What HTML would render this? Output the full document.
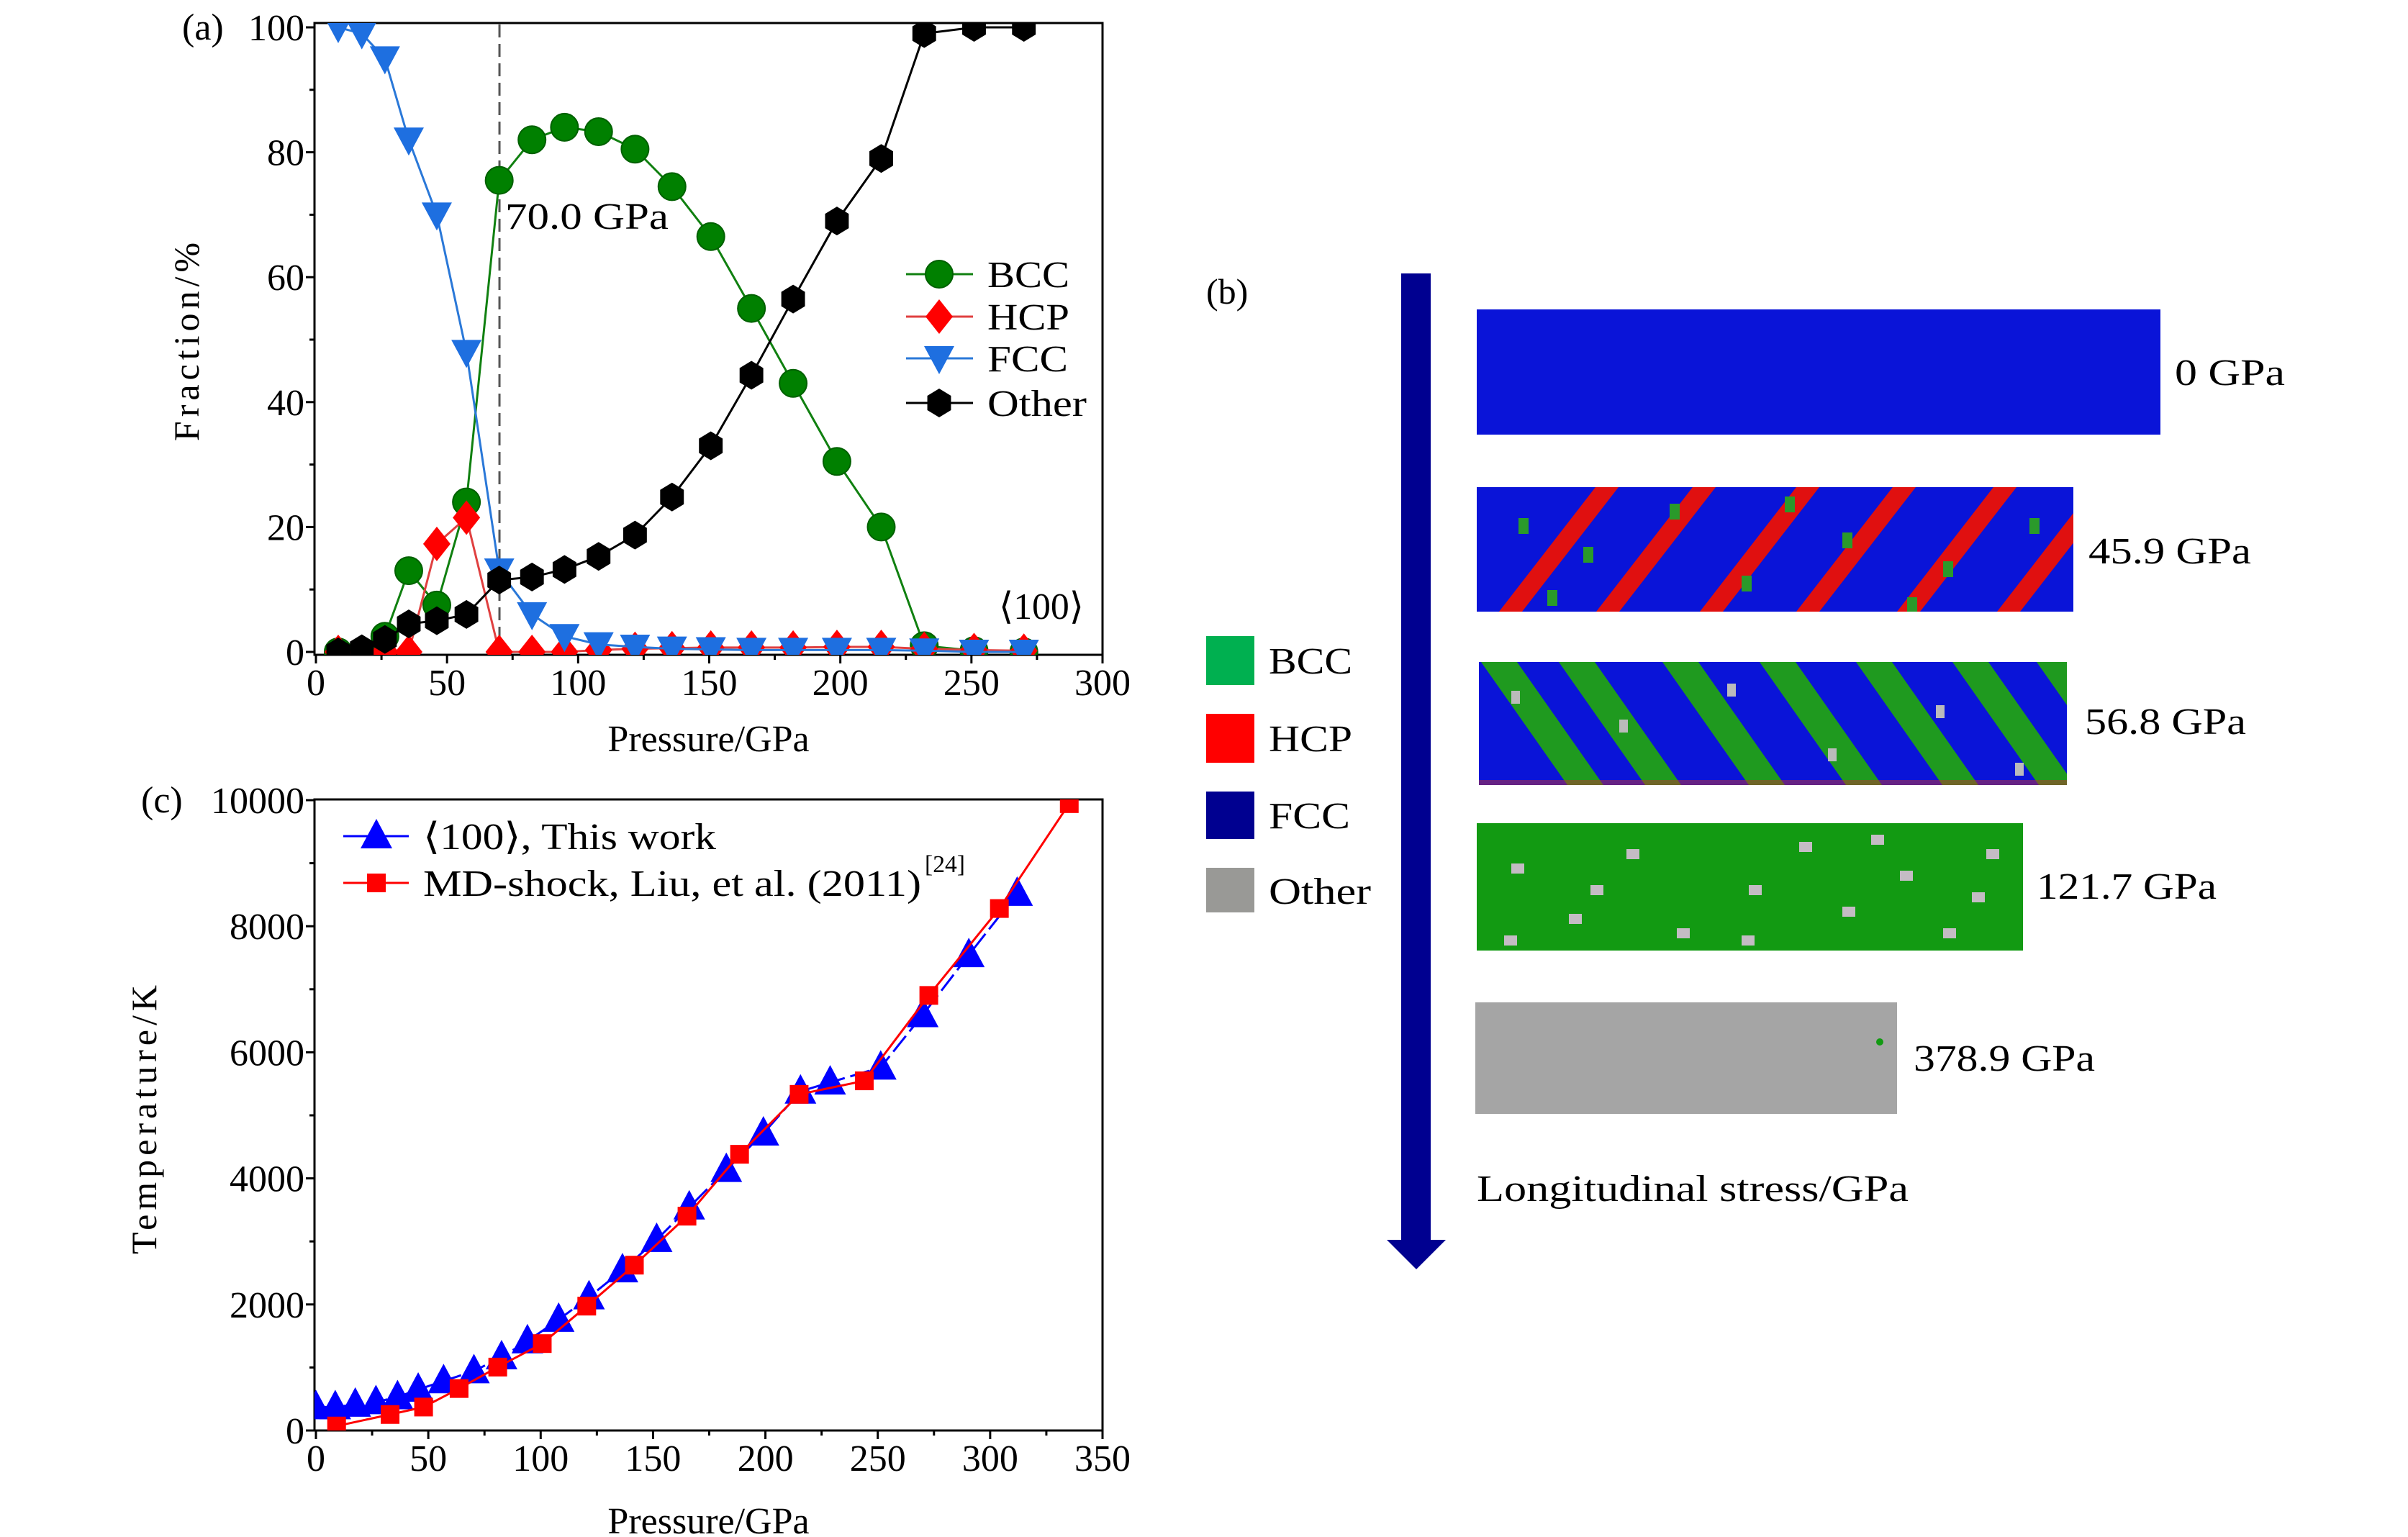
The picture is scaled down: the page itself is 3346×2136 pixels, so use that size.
<!DOCTYPE html>
<html><head><meta charset="utf-8">
<style>
html,body{margin:0;padding:0;background:#fff;}
svg{display:block;font-family:"Liberation Serif",serif;}
</style></head>
<body>
<svg id="fig" width="3346" height="2136" viewBox="0 0 3346 2136" xmlns="http://www.w3.org/2000/svg">
<defs>
<clipPath id="clipA"><rect x="437" y="32" width="1095" height="878"/></clipPath>
<clipPath id="clipC"><rect x="437" y="1111" width="1095" height="877"/></clipPath>
<clipPath id="s2c"><rect x="2052" y="677" width="829" height="173"/></clipPath>
<clipPath id="s3c"><rect x="2055" y="920" width="817" height="171"/></clipPath>
</defs>
<g id="panelA"></g>
<g id="panelC"></g>
<g id="panelB">
  <text x="1676" y="422" font-size="50">(b)</text>
  <rect x="1947" y="380" width="41" height="1345" fill="#000090"/>
  <polygon points="1927,1723 2009,1723 1968,1764" fill="#000090"/>
  <g>
    <rect x="1676" y="884" width="67" height="68" fill="#00b050"/>
    <text x="1763" y="936" font-size="52" textLength="116" lengthAdjust="spacingAndGlyphs">BCC</text>
    <rect x="1676" y="992" width="67" height="68" fill="#ff0000"/>
    <text x="1763" y="1044" font-size="52" textLength="116" lengthAdjust="spacingAndGlyphs">HCP</text>
    <rect x="1676" y="1100" width="67" height="66" fill="#000090"/>
    <text x="1763" y="1151" font-size="52" textLength="113" lengthAdjust="spacingAndGlyphs">FCC</text>
    <rect x="1676" y="1206" width="67" height="62" fill="#999996"/>
    <text x="1763" y="1256" font-size="52" textLength="142" lengthAdjust="spacingAndGlyphs">Other</text>
  </g>
  <rect x="2052" y="430" width="950" height="174" fill="#0a14d8"/>
  <text x="3022" y="535" font-size="52" textLength="153" lengthAdjust="spacingAndGlyphs">0 GPa</text>
  <g>
    <rect x="2052" y="677" width="829" height="173" fill="#0a14d8"/>
    <g id="s2" clip-path="url(#s2c)"></g>
  </g>
  <text x="2902" y="783" font-size="52" textLength="226" lengthAdjust="spacingAndGlyphs">45.9 GPa</text>
  <g>
    <rect x="2055" y="920" width="817" height="171" fill="#0a14d8"/>
    <g id="s3" clip-path="url(#s3c)"></g>
  </g>
  <text x="2897" y="1020" font-size="52" textLength="224" lengthAdjust="spacingAndGlyphs">56.8 GPa</text>
  <g>
    <rect x="2052" y="1144" width="759" height="177" fill="#129a12"/>
    <g id="s4"></g>
  </g>
  <text x="2830" y="1249" font-size="52" textLength="250" lengthAdjust="spacingAndGlyphs">121.7 GPa</text>
  <rect x="2050" y="1393" width="586" height="155" fill="#a5a5a5"/>
  <circle cx="2612" cy="1448" r="5" fill="#129a12"/>
  <text x="2659" y="1488" font-size="52" textLength="252" lengthAdjust="spacingAndGlyphs">378.9 GPa</text>
  <text x="2052" y="1669" font-size="52" textLength="600" lengthAdjust="spacingAndGlyphs">Longitudinal stress/GPa</text>
</g>
</svg>
<script>
// ---- Panel (a) data ----
const pressureA = [8.5,17.5,26.3,35.4,46.1,57.4,69.9,82.4,94.8,107.8,121.7,135.8,150.6,166.1,182,198.7,215.6,232,251,270];
const bccFrac   = [0,0,2.5,13,7.5,24,75.5,82,84,83.3,80.5,74.5,66.5,55,43,30.5,20,1,0.2,0];
const hcpFrac   = [0,0,0,0,17.3,21.5,0,0,0,0.3,0.5,0.6,0.7,0.7,0.7,0.8,0.8,0.5,0.3,0.2];
const fccFrac   = [100,99,95,82,70,48,13,6,2.5,1.2,0.8,0.5,0.4,0.3,0.3,0.3,0.3,0.2,0,0];
const otherFrac = [0,0.5,2,4.5,5,6,11.5,12,13.2,15.3,18.7,24.8,33,44.3,56.5,69,79,99,100,100];
const xTicksA = [0,50,100,150,200,250,300];
const yTicksA = [0,20,40,60,80,100];
// ---- Panel (c) data ----
const pressureThis = [0,8.6,17.5,26.7,36.3,45.5,56.8,70.3,82.6,94.1,108,121.5,136.4,151.6,166.1,182.6,199.1,215.6,228.8,251.3,270,290.5,312];
const tempThis = [372,372,412,452,531,650,785,943,1165,1418,1759,2116,2544,3027,3542,4136,4714,5380,5523,5761,6593,7544,8518];
const pressureLiu = [9.2,33,47.9,63.7,80.9,100.7,120.5,141.7,165.1,188.5,215,244,272.7,304.1,335.2];
const tempLiu = [71,254,372,666,1006,1379,1973,2623,3400,4382,5333,5547,6902,8281,9945];
const xTicksC = [0,50,100,150,200,250,300,350];
const yTicksC = [0,2000,4000,6000,8000,10000];

const NS='http://www.w3.org/2000/svg';
function mk(parent,tag,attrs,txt){const e=document.createElementNS(NS,tag);for(const k in attrs)e.setAttribute(k,attrs[k]);if(txt!==undefined)e.textContent=txt;parent.appendChild(e);return e;}

const xA=v=>439+(v-0)/300*(1532-439);
const yA=v=>906-(v-0)/100*(906-38);
const xC=v=>439+v/350*(1532-439);
const yC=v=>1988-v/10000*(1988-1112);

function axes(g,fx,fy,xt,yt,frame,xminor,yminor,xlab,ylab,ylabX,ylabY,xlabOff){
  const f=mk(g,'rect',{x:frame[0],y:frame[1],width:frame[2]-frame[0],height:frame[3]-frame[1],fill:'none',stroke:'#000','stroke-width':3});
  
  
  xt.forEach(v=>{const x=fx(v);mk(g,'line',{x1:x,x2:x,y1:frame[3],y2:frame[3]+12,stroke:'#000','stroke-width':3});
    const t=mk(g,'text',{x:x,y:frame[3]+56,'font-size':52,'text-anchor':'middle'},v);
    
    });
  xminor.forEach(v=>{const x=fx(v);mk(g,'line',{x1:x,x2:x,y1:frame[3],y2:frame[3]+7,stroke:'#000','stroke-width':3});});
  yt.forEach(v=>{const y=fy(v);mk(g,'line',{x1:frame[0],x2:frame[0]-12,y1:y,y2:y,stroke:'#000','stroke-width':3});
    const t=mk(g,'text',{x:frame[0]-14,y:y+18,'font-size':52,'text-anchor':'end'},v);
    
    });
  yminor.forEach(v=>{const y=fy(v);mk(g,'line',{x1:frame[0],x2:frame[0]-7,y1:y,y2:y,stroke:'#000','stroke-width':3});});
  const xl=mk(g,'text',{x:(frame[0]+frame[2])/2,y:frame[3]+xlabOff,'font-size':52,'text-anchor':'middle'},xlab);
  
  
  const yl=mk(g,'text',{x:ylabX,y:ylabY,'font-size':50,'text-anchor':'middle','letter-spacing':'6',transform:`rotate(-90 ${ylabX} ${ylabY})`},ylab);
  
  
}

function marker(g,type,x,y,fill,stroke){
  let e;
  if(type==='circle') e=mk(g,'circle',{cx:x,cy:y,r:19,fill:fill,stroke:stroke,'stroke-width':2});
  else if(type==='diamond') e=mk(g,'polygon',{points:`${x},${y-24} ${x+19},${y} ${x},${y+24} ${x-19},${y}`,fill:fill});
  else if(type==='tridown') e=mk(g,'polygon',{points:`${x-21},${y-17} ${x+21},${y-17} ${x},${y+22}`,fill:fill});
  else if(type==='triup') e=mk(g,'polygon',{points:`${x-22},${y+17} ${x+22},${y+17} ${x},${y-24}`,fill:fill});
  else if(type==='square') e=mk(g,'rect',{x:x-13,y:y-13,width:26,height:26,fill:fill});
  else if(type==='hex'){const r=20;let p=[];for(let i=0;i<6;i++){const a=Math.PI/2+i*Math.PI/3;p.push((x+r*0.95*Math.cos(a))+','+(y+r*Math.sin(a)));}e=mk(g,'polygon',{points:p.join(' '),fill:fill});}
  return e;
}

function series(g,xs,ys,fx,fy,color,mtype,mfill,mstroke,name,dash){
  const sg=mk(g,'g',{});
  
  
  const pts=xs.map((v,i)=>fx(v)+','+fy(ys[i])).join(' ');
  const attrs={points:pts,fill:'none',stroke:color,'stroke-width':3};
  if(dash) attrs['stroke-dasharray']=dash;
  mk(sg,'polyline',attrs);
  xs.forEach((v,i)=>{const m=marker(sg,mtype,fx(v),fy(ys[i]),mfill,mstroke);
    
    });
}

// ---- Panel A ----
const gA=document.getElementById('panelA');
axes(gA,xA,yA,xTicksA,yTicksA,[437,32,1532,910],[25,75,125,175,225,275],[10,30,50,70,90],'Pressure/GPa','Fraction/%',276,472,134);
mk(gA,'text',{x:253,y:55,'font-size':52},'(a)');
const vline=mk(gA,'line',{x1:xA(70),x2:xA(70),y1:34,y2:908,stroke:'#555','stroke-width':3,'stroke-dasharray':'18,9'});


mk(gA,'text',{x:702,y:318,'font-size':52,textLength:227,lengthAdjust:'spacingAndGlyphs'},'70.0 GPa');
mk(gA,'text',{x:1388,y:860,'font-size':52,textLength:118,lengthAdjust:'spacingAndGlyphs'},'⟨100⟩');
const cA=mk(gA,'g',{'clip-path':'url(#clipA)'});
series(cA,pressureA,bccFrac,xA,yA,'#108010','circle','#008000','#006000','bcc-series');
series(cA,pressureA,hcpFrac,xA,yA,'#e04040','diamond','#ff0000','none','hcp-series');
series(cA,pressureA,fccFrac,xA,yA,'#2a78d8','tridown','#1e6fe0','none','fcc-series');
series(cA,pressureA,otherFrac,xA,yA,'#000','hex','#000','none','other-series');
const legA=[['BCC','#108010','circle','#008000','#006000',381,114],['HCP','#e04040','diamond','#ff0000','none',440,114],['FCC','#2a78d8','tridown','#1e6fe0','none',498,112],['Other','#000','hex','#000','none',560,138]];
legA.forEach(l=>{const lg=mk(gA,'g',{});
  
  
  mk(lg,'line',{x1:1259,x2:1352,y1:l[5],y2:l[5],stroke:l[1],'stroke-width':3});
  marker(lg,l[2],1305,l[5],l[3],l[4]);
  mk(lg,'text',{x:1372,y:l[5]+18,'font-size':52,textLength:l[6],lengthAdjust:'spacingAndGlyphs'},l[0]);});

// ---- Panel C ----
const gC=document.getElementById('panelC');
axes(gC,xC,yC,xTicksC,yTicksC,[437,1111,1532,1988],[25,75,125,175,225,275,325],[1000,3000,5000,7000,9000],'Pressure/GPa','Temperature/K',217,1553,143);
mk(gC,'text',{x:196,y:1129,'font-size':52},'(c)');
const cC=mk(gC,'g',{'clip-path':'url(#clipC)'});
series(cC,pressureThis,tempThis,xC,yC,'#0000ff','triup','#0000ff','none','this-work-series','28,8');
series(cC,pressureLiu,tempLiu,xC,yC,'#ff0000','square','#ff0000','none','liu-2011-series');
const l1=mk(gC,'g',{});


mk(l1,'line',{x1:477,x2:568,y1:1162,y2:1162,stroke:'#0000ff','stroke-width':3});
marker(l1,'triup',523,1162,'#0000ff','none');
mk(l1,'text',{x:588,y:1180,'font-size':52,textLength:407,lengthAdjust:'spacingAndGlyphs'},'⟨100⟩, This work');
const l2=mk(gC,'g',{});


mk(l2,'line',{x1:477,x2:568,y1:1227,y2:1227,stroke:'#ff0000','stroke-width':3});
marker(l2,'square',523,1227,'#ff0000','none');
mk(l2,'text',{x:588,y:1245,'font-size':52,textLength:692,lengthAdjust:'spacingAndGlyphs'},'MD-shock, Liu, et al. (2011)');
mk(l2,'text',{x:1285,y:1212,'font-size':34,textLength:56,lengthAdjust:'spacingAndGlyphs'},'[24]');

// ---- Snapshot textures ----
const s2=document.getElementById('s2');
[2083,2218,2362,2496,2636,2775].forEach(b=>{mk(s2,'polygon',{points:`${b},850 ${b+32},850 ${b+166},677 ${b+134},677`,fill:'#e01010'});});
[[2110,720],[2200,760],[2320,700],[2420,800],[2560,740],[2700,780],[2820,720],[2150,820],[2480,690],[2650,830]].forEach(p=>{mk(s2,'rect',{x:p[0],y:p[1],width:14,height:22,fill:'#2a9a2a'});});
const s3=document.getElementById('s3');
[2058,2166,2310,2445,2579,2713,2830].forEach(t=>{mk(s3,'polygon',{points:`${t},920 ${t+50},920 ${t+170},1091 ${t+120},1091`,fill:'#1f9a1f'});});
[[2100,960],[2250,1000],[2400,950],[2540,1040],[2690,980],[2800,1060]].forEach(p=>{mk(s3,'rect',{x:p[0],y:p[1],width:12,height:18,fill:'#bbb'});});
mk(s3,'rect',{x:2055,y:1084,width:817,height:7,fill:'#c03030',opacity:0.5});
const s4=document.getElementById('s4');
[[2100,1200],[2180,1270],[2260,1180],[2330,1290],[2430,1230],[2500,1170],[2560,1260],[2640,1210],[2700,1290],[2760,1180],[2420,1300],[2210,1230],[2600,1160],[2740,1240],[2090,1300]].forEach(p=>{mk(s4,'rect',{x:p[0],y:p[1],width:18,height:14,fill:'#c4bcc4'});});
</script>
</body></html>
